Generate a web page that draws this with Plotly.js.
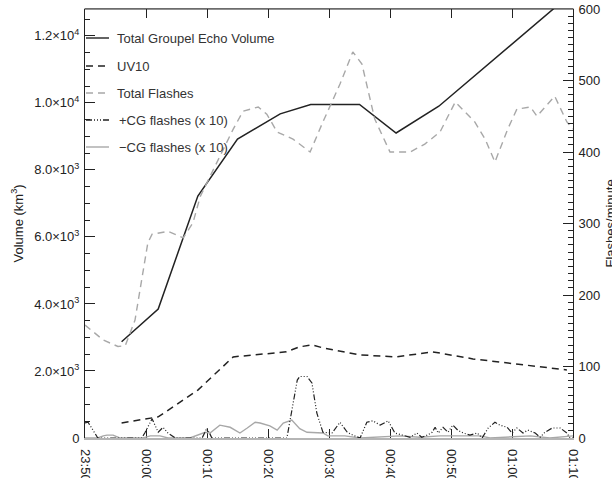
<!DOCTYPE html>
<html>
<head>
<meta charset="utf-8">
<script src="https://cdn.plot.ly/plotly-3.0.1.min.js"></script>
<style>
  html, body { margin: 0; padding: 0; background: #fff; }
  #chart { width: 612px; height: 478px; }
</style>
</head>
<body>
<div id="chart"></div>
<script>
// Time axis: minutes after 23:50 UTC
const tickMinutes = [0, 10, 20, 30, 40, 50, 60, 70, 80];
const tickLabels = ["23:50", "00:00", "00:10", "00:20", "00:30", "00:40", "00:50", "01:00", "01:10"];

// Left axis ticks (km^3)
const volumeTicks = [0, 2000, 4000, 6000, 8000, 10000, 12000];
const volumeTickLabels = ["0", "2.0×10<sup>3</sup>", "4.0×10<sup>3</sup>", "6.0×10<sup>3</sup>",
                          "8.0×10<sup>3</sup>", "1.0×10<sup>4</sup>", "1.2×10<sup>4</sup>"];

// Total graupel echo volume (km^3)
const groupelMinutes = [6, 12, 18.5, 25, 32, 37, 45, 51, 58, 80];
const groupelVolume  = [2870, 3850, 7220, 8920, 9670, 9950, 9950, 9100, 9900, 13300];

// Updraft volume > 10 m/s (km^3)
const uv10Minutes = [6, 11, 12, 18.5, 24.3, 33, 35.2, 37.2, 39, 45, 51, 57, 63.6, 79];
const uv10Volume  = [450, 600, 630, 1430, 2420, 2570, 2720, 2780, 2690, 2480, 2420, 2570, 2360, 2030];

// Total flash rate (flashes/minute)
const flashMinutes = [0, 3, 5.4, 6.6, 8.2, 10.3, 11, 13.6, 16.1, 17.7, 18.9, 24.3, 25.9, 28.4, 29.8,
                      31.5, 34.1, 36.9, 39, 41.8, 43.9, 45.4, 47.5, 50, 53.3, 55.7, 58.2, 60.7,
                      63.9, 65.6, 67.2, 69.3, 70.8, 73, 74.1, 77, 79, 80];
const totalFlashes = [158, 137, 128, 129, 165, 273, 285, 289, 280, 301, 338, 432, 457, 463, 453,
                      428, 418, 400, 442, 495, 540, 523, 446, 400, 400, 411, 428, 470,
                      442, 418, 386, 432, 460, 463, 450, 478, 442, 432];

// Positive CG flash rate, scaled x10
const posCGMinutes = [0, 0.5, 1.6, 2.1, 9.3, 9.8, 11, 12, 12.8, 13.6, 14.8, 19.2, 20, 20.8, 33.1,
                      34.8, 35.2, 36.4, 37.2, 38, 39, 39.8, 40.5, 41.8, 43, 43.9, 45.1, 46.2,
                      47.2, 48.4, 49.7, 50.8, 52.1, 53.3, 54.4, 55.2, 56.1, 56.9, 57.4, 57.9,
                      58.7, 59.5, 60.3, 61.1, 62, 63.1, 64.3, 65.1, 66.1, 67.2, 68, 69.2, 70,
                      70.8, 71.8, 72.6, 73.8, 74.6, 75.4, 76.6, 77.9, 79, 79.5, 80];
const posCGx10 = [21, 22, 7, 0, 0, 7, 27, 8, 15, 7, 0, 0, 14, 0, 0,
                  81, 86, 86, 77, 35, 8, 7, 7, 22, 8, 4, 0, 22,
                  24, 18, 24, 7, 4, 1, 7, 1, 4, 8, 15, 7,
                  15, 8, 18, 11, 7, 4, 7, 0, 14, 22, 18, 15, 7,
                  14, 7, 11, 7, 1, 8, 14, 14, 7, 0, 0];

// Negative CG flash rate, scaled x10
const negCGMinutes = [0, 2.1, 3, 3.6, 4.6, 5.4, 5.7, 9.5, 10.7, 12.3, 13.6, 17.2, 18.9, 19.7, 20.5,
                      22.1, 23.8, 25.4, 26.6, 27.9, 28.7, 30.3, 31.5, 32.5, 33.9, 35.2, 36.4,
                      39, 39.8, 42.6, 45.1, 48.4, 51.6, 54.9, 58.2, 61.5, 64.8, 66.4, 69.7,
                      73, 76.2, 79.5, 80];
const negCGx10 = [0, 0, 3, 4, 4, 1, 0, 0, 3, 3, 0, 0, 6, 8, 7,
                  18, 15, 7, 14, 22, 21, 17, 11, 21, 25, 13, 8,
                  7, 3, 3, 0, 1, 3, 1, 3, 3, 3, 0, 1,
                  3, 0, 3, 3];

const FONT = "Liberation Sans, Arial, Helvetica, sans-serif";
const INK = "#222";
const GREY = "#a8a8a8";
const PLUS_CG_DASH = "6px,2px,1px,2px,1px,2px,1px,2px";

const traces = [
  { x: negCGMinutes, y: negCGx10, yaxis: "y2", mode: "lines", name: "−CG flashes (x 10)",
    line: { color: GREY, width: 1.4 } },
  { x: posCGMinutes, y: posCGx10, yaxis: "y2", mode: "lines", name: "+CG flashes (x 10)",
    line: { color: INK, width: 1.2, dash: PLUS_CG_DASH } },
  { x: flashMinutes, y: totalFlashes, yaxis: "y2", mode: "lines", name: "Total Flashes",
    line: { color: GREY, width: 1.4, dash: "7px,5px" } },
  { x: uv10Minutes, y: uv10Volume, yaxis: "y", mode: "lines", name: "UV10",
    line: { color: INK, width: 1.5, dash: "7px,5px" } },
  { x: groupelMinutes, y: groupelVolume, yaxis: "y", mode: "lines", name: "Total Groupel Echo Volume",
    line: { color: INK, width: 1.5 } }
];

// Plot-area pixel helpers for the in-plot key
const L = 85, R = 39, T = 9, B = 40, W = 612, H = 478;
const pw = W - L - R, ph = H - T - B;
const px = v => (v - L) / pw;
const py = v => (H - B - v) / ph;

const keyRows = [
  { y: 38,  text: "Total Groupel Echo Volume", color: INK,  dash: "solid", tx: 115 },
  { y: 66,  text: "UV10",                      color: INK,  dash: "7px,5px", tx: 115 },
  { y: 93,  text: "Total Flashes",             color: GREY, dash: "7px,5px", tx: 115 },
  { y: 120, text: "+CG flashes (x 10)",        color: INK,  dash: PLUS_CG_DASH, tx: 117 },
  { y: 147, text: "−CG flashes (x 10)",        color: GREY, dash: "solid", tx: 117 }
];

const shapes = [
  // top frame edge
  { type: "line", xref: "paper", yref: "paper", x0: 0, x1: 1, y0: 1, y1: 1,
    line: { color: INK, width: 1 } }
];
const annotations = [
  { xref: "paper", yref: "paper", x: px(17), y: 0.5, text: "Volume (km<sup>3</sup>)",
    textangle: -90, showarrow: false, xanchor: "center", yanchor: "middle",
    font: { family: FONT, size: 13, color: INK } },
  { xref: "paper", yref: "paper", x: px(610), y: 0.5, text: "Flashes/minute",
    textangle: -90, showarrow: false, xanchor: "center", yanchor: "middle",
    font: { family: FONT, size: 13, color: INK } }
];
keyRows.forEach(r => {
  shapes.push({ type: "line", xref: "paper", yref: "paper",
    x0: px(86), x1: px(109), y0: py(r.y), y1: py(r.y),
    line: { color: r.color, width: 1.4, dash: r.dash } });
  annotations.push({ xref: "paper", yref: "paper", x: px(r.tx), y: py(r.y),
    text: r.text, showarrow: false, xanchor: "left", yanchor: "middle",
    font: { family: FONT, size: 13, color: "#333" } });
});

const layout = {
  width: W, height: H,
  margin: { l: L, r: R, t: T, b: B, pad: 0 },
  paper_bgcolor: "#fff", plot_bgcolor: "#fff",
  showlegend: false,
  font: { family: FONT, size: 13, color: INK },
  xaxis: {
    range: [0, 80], tickmode: "array", tickvals: tickMinutes, ticktext: tickLabels,
    tickangle: 90, ticks: "inside", ticklen: 9, tickcolor: INK, tickwidth: 1,
    showline: true, linecolor: "#b5b5b5", linewidth: 1.5, mirror: "ticks",
    showgrid: false, zeroline: false, automargin: false, layer: "below traces",
    ticklabelstandoff: 7,
    tickfont: { family: FONT, size: 13, color: INK }
  },
  yaxis: {
    range: [0, 12800], tickmode: "array", tickvals: volumeTicks, ticktext: volumeTickLabels,
    ticks: "inside", ticklen: 10, tickcolor: INK, showline: true, linecolor: INK, linewidth: 1,
    minor: { tickmode: "linear", tick0: 0, dtick: 500, ticks: "inside", ticklen: 5, tickcolor: INK, showgrid: false },
    showgrid: false, zeroline: false, automargin: false, ticklabelstandoff: 2,
    tickfont: { family: FONT, size: 13, color: INK }
  },
  yaxis2: {
    range: [0, 600], overlaying: "y", side: "right", tickmode: "linear", tick0: 0, dtick: 100,
    ticks: "inside", ticklen: 10, tickcolor: INK, showline: true, linecolor: INK, linewidth: 1,
    minor: { tickmode: "linear", tick0: 0, dtick: 10, ticks: "inside", ticklen: 5, tickcolor: INK, showgrid: false },
    showgrid: false, zeroline: false, automargin: false, ticklabelstandoff: 2,
    tickfont: { family: FONT, size: 13, color: INK }
  },
  shapes: shapes,
  annotations: annotations
};

Plotly.newPlot("chart", traces, layout, { staticPlot: true, displayModeBar: false });
</script>
</body>
</html>
